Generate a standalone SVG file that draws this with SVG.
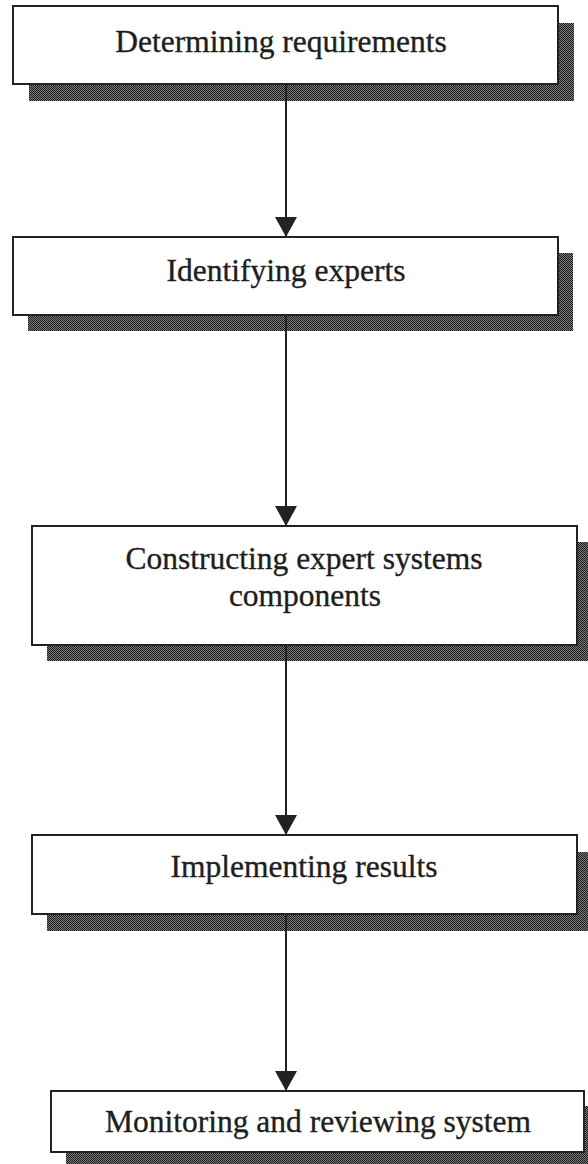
<svg xmlns="http://www.w3.org/2000/svg" width="588" height="1164" viewBox="0 0 588 1164">
  <style>
    .box { fill: #ffffff; stroke: #222222; stroke-width: 2; }
    .shadow { fill: url(#dots); }
    .label { font-family: "Liberation Serif", "Times New Roman", serif; font-size: 31.5px; fill: #1e1e1e; stroke: #1e1e1e; stroke-width: 0.35; text-anchor: middle; }
    .conn { stroke: #222222; stroke-width: 2; fill: none; marker-end: url(#arrow); }
  </style>
  <defs>
    <pattern id="dots" width="2" height="2" patternUnits="userSpaceOnUse">
      <rect x="0" y="0" width="2" height="2" fill="#7c7c7c"/>
      <rect x="0" y="0" width="1" height="1" fill="#1c1c1c"/>
      <rect x="1" y="1" width="1" height="1" fill="#1c1c1c"/>
    </pattern>
    <marker id="arrow" markerUnits="userSpaceOnUse" markerWidth="20" markerHeight="22" viewBox="0 0 20 22" refX="20" refY="11" orient="auto">
      <path d="M0,0 L20,11 L0,22 z" fill="#222222"/>
    </marker>
  </defs>

  <g id="node-determining">
    <rect class="shadow" x="29" y="23" width="545" height="78"/>
    <rect class="box" x="13" y="6" width="545" height="78"/>
    <text class="label" x="281" y="52">Determining requirements</text>
  </g>

  <g id="node-identifying">
    <rect class="shadow" x="28" y="253" width="545" height="78"/>
    <rect class="box" x="13" y="237" width="545" height="78"/>
    <text class="label" x="286" y="281">Identifying experts</text>
  </g>

  <g id="node-constructing">
    <rect class="shadow" x="47" y="542" width="545" height="119"/>
    <rect class="box" x="32" y="526" width="545" height="119"/>
    <text class="label" x="304" y="569">Constructing expert systems</text>
    <text class="label" x="305" y="606">components</text>
  </g>

  <g id="node-implementing">
    <rect class="shadow" x="47" y="852" width="545" height="79"/>
    <rect class="box" x="32" y="835" width="545" height="79"/>
    <text class="label" x="304" y="877">Implementing results</text>
  </g>

  <g id="node-monitoring">
    <rect class="shadow" x="66" y="1106" width="533" height="62"/>
    <rect class="box" x="51" y="1091" width="533" height="61"/>
    <text class="label" x="318" y="1132">Monitoring and reviewing system</text>
  </g>

  <g id="connectors">
    <line class="conn" x1="286" y1="84" x2="286" y2="237"/>
    <line class="conn" x1="286" y1="315" x2="286" y2="526"/>
    <line class="conn" x1="286" y1="645" x2="286" y2="835"/>
    <line class="conn" x1="286" y1="914" x2="286" y2="1091"/>
  </g>
</svg>
